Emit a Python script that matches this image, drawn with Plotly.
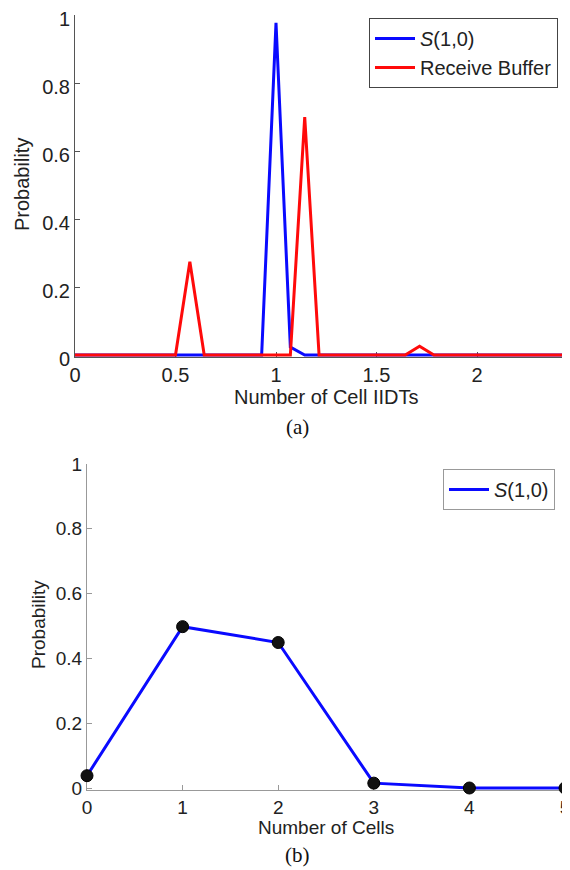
import plotly.graph_objects as go

# ---- data: panel (a) ----
iidt_x = [0.0, 0.0714, 0.1429, 0.2143, 0.2857, 0.3571, 0.4286, 0.5, 0.5714, 0.6429,
          0.7143, 0.7857, 0.8571, 0.9286, 1.0, 1.0714, 1.1429, 1.2143, 1.2857, 1.3571,
          1.4286, 1.5, 1.5714, 1.6429, 1.7143, 1.7857, 1.8571, 1.9286, 2.0, 2.0714,
          2.1429, 2.2143, 2.2857, 2.3571, 2.4286, 2.5]
s10_iidt = [0, 0, 0, 0, 0, 0, 0, 0, 0, 0,
            0, 0, 0, 0, 0.977, 0.023, 0, 0, 0, 0,
            0, 0, 0, 0, 0, 0, 0, 0, 0, 0,
            0, 0, 0, 0, 0, 0]
rbuf_iidt = [0, 0, 0, 0, 0, 0, 0, 0, 0.274, 0,
             0, 0, 0, 0, 0, 0, 0.70, 0, 0, 0,
             0, 0, 0, 0, 0.026, 0, 0, 0, 0, 0,
             0, 0, 0, 0, 0, 0]
a_xticks = [0, 0.5, 1, 1.5, 2]
a_xticktext = ["0", "0.5", "1", "1.5", "2"]
yticks = [0, 0.2, 0.4, 0.6, 0.8, 1]
yticktext = ["0", "0.2", "0.4", "0.6", "0.8", "1"]

# ---- data: panel (b) ----
cells_x = [0, 1, 2, 3, 4, 5]
s10_cells = [0.038, 0.498, 0.449, 0.015, 0.0, 0.0]
b_xticks = [0, 1, 2, 3, 4, 5]
b_xticktext = ["0", "1", "2", "3", "4", "5"]

# page geometry: the html body has an 8px default margin
OFF = 8
WF, HF = 570 - OFF, 870 - OFF


def px(x):
    return (x - OFF) / WF


def py(y):
    return 1 - (y - OFF) / HF


FONT = "Liberation Sans, Arial, Helvetica, sans-serif"
SERIF = "Liberation Serif, Times New Roman, serif"
BLUE = "#0a0aff"
RED = "#ff0a0a"
TXT = "#222222"

fig = go.Figure()

fig.add_trace(go.Scatter(x=iidt_x, y=s10_iidt, mode="lines", name="<i>S</i>(1,0)",
                         line=dict(color=BLUE, width=3), xaxis="x", yaxis="y",
                         legend="legend"))
fig.add_trace(go.Scatter(x=iidt_x, y=rbuf_iidt, mode="lines", name="Receive Buffer",
                         line=dict(color=RED, width=3), xaxis="x", yaxis="y",
                         legend="legend"))
fig.add_trace(go.Scatter(x=cells_x, y=s10_cells, mode="lines", name="<i>S</i>(1,0)",
                         line=dict(color=BLUE, width=3),
                         xaxis="x2", yaxis="y2", legend="legend2"))
fig.add_trace(go.Scatter(x=cells_x, y=s10_cells, mode="markers", showlegend=False,
                         marker=dict(symbol="circle", size=12, color="#111111",
                                     line=dict(color="black", width=1)),
                         cliponaxis=False, xaxis="x2", yaxis="y2"))

# axes geometry (screen pixels)
a_left, a_top, a_bottom, a_right = 75, 15, 355, 570
a_px_per_unit = 201.0
a_xmax = (a_right - a_left) / a_px_per_unit
a_ymin = -0.006
a_bottom_ext = a_bottom + 0.006 * (a_bottom - a_top)

b_left, b_right, b_top, b_bottom = 87, 565, 464, 788
b_ymin = -0.006
b_bottom_ext = b_bottom + 0.006 * (b_bottom - b_top)


def axis_style(color, size, shift=0):
    return dict(showgrid=False, zeroline=False, showline=True, linecolor=color,
                linewidth=1, ticks="inside", ticklen=5, tickcolor=color,
                automargin=False, layer="below traces", ticklabeloverflow="allow",
                ticklabelshift=shift,
                tickfont=dict(family=FONT, size=size, color=TXT))


def label(text, x, y, size, family=FONT, angle=0, color=TXT):
    return dict(text=text, x=px(x), y=py(y), xref="paper", yref="paper",
                xanchor="center", yanchor="middle", textangle=angle,
                showarrow=False, font=dict(family=family, size=size, color=color))


fig.update_layout(
    width=WF, height=HF,
    margin=dict(l=0, r=0, t=0, b=0, autoexpand=False),
    paper_bgcolor="white", plot_bgcolor="white",
    font=dict(family=FONT, color=TXT),
    showlegend=True,
    xaxis=dict(domain=[px(a_left), px(a_right)], range=[0, a_xmax], anchor="y",
               tickvals=a_xticks, ticktext=a_xticktext, **axis_style("#555555", 20)),
    yaxis=dict(domain=[py(a_bottom_ext), py(a_top)], range=[a_ymin, 1], anchor="x",
               tickvals=yticks, ticktext=yticktext, **axis_style("#555555", 20, 4)),
    xaxis2=dict(domain=[px(b_left), px(b_right)], range=[0, 5], anchor="y2",
                tickvals=b_xticks, ticktext=b_xticktext, **axis_style("#999999", 19)),
    yaxis2=dict(domain=[py(b_bottom_ext), py(b_top)], range=[b_ymin, 1], anchor="x2",
                tickvals=yticks, ticktext=yticktext, **axis_style("#999999", 19)),
    legend=dict(x=px(369), y=py(18), xanchor="left", yanchor="top",
                bgcolor="white", bordercolor="#444444", borderwidth=1,
                font=dict(family=FONT, size=20, color=TXT),
                tracegroupgap=0, itemwidth=40),
    legend2=dict(x=px(443), y=py(469), xanchor="left", yanchor="top",
                 bgcolor="white", bordercolor="#999999", borderwidth=1,
                 font=dict(family=FONT, size=20, color=TXT),
                 itemwidth=40),
    annotations=[
        label("Probability", 22, 185, 20, angle=-90),
        label("Number of Cell IIDTs", 326, 397, 20),
        label("(a)", 297, 427, 21, family=SERIF, color="#111111"),
        label("Probability", 38, 625, 19, angle=-90),
        label("Number of Cells", 326, 827, 19),
        label("(b)", 297, 855, 21, family=SERIF, color="#111111"),
    ],
)

fig.write_html("out.html")
